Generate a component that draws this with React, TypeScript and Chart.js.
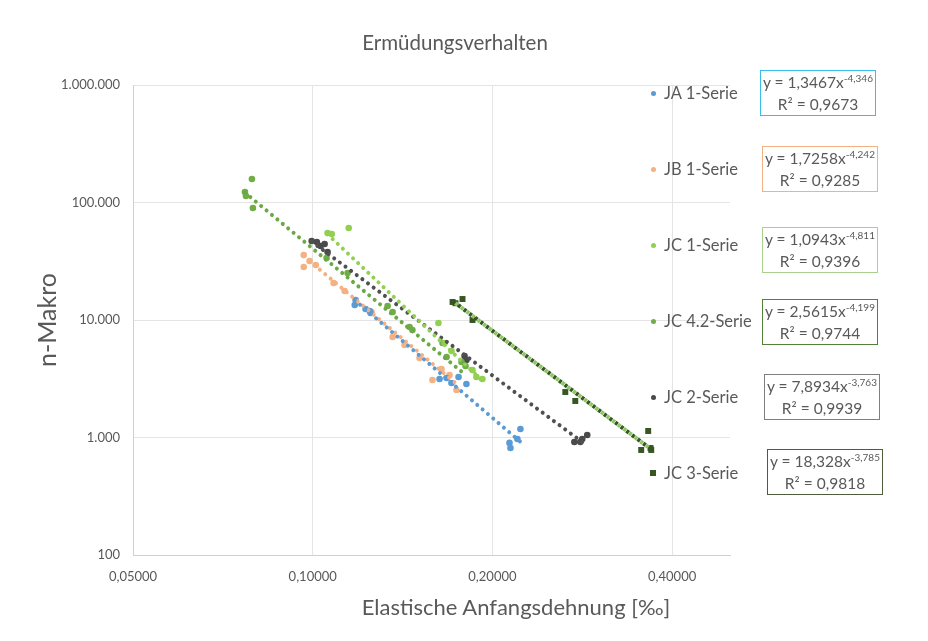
import React, { useEffect, useRef } from 'react';
import { Chart, registerables } from 'chart.js';
Chart.register(...registerables);

// ---- axis ticks ----
const xTicks = [0.05, 0.1, 0.2, 0.4];
const yTicks = [100, 1000, 10000, 100000, 1000000];

// ---- series names & trendline equations ----
const seriesNames = ['JA 1-Serie', 'JB 1-Serie', 'JC 1-Serie', 'JC 4.2-Serie', 'JC 2-Serie', 'JC 3-Serie'];
const eqCoef = ['1,3467', '1,7258', '1,0943', '2,5615', '7,8934', '18,328'];
const eqExp = ['-4,346', '-4,242', '-4,811', '-4,199', '-3,763', '-3,785'];
const eqR2 = ['0,9673', '0,9285', '0,9396', '0,9744', '0,9939', '0,9818'];

// ---- measured points [strain ‰, cycles] ----
const jaPoints = [
  [0.1176, 13420], [0.1180, 14800], [0.1226, 12410], [0.1246, 11930], [0.1250, 11480],
  [0.1631, 3150], [0.1676, 3210], [0.1708, 2910], [0.1755, 3270], [0.1809, 2850],
  [0.2136, 900], [0.2144, 814], [0.2202, 971], [0.2228, 1181],
];
const jbPoints = [
  [0.0966, 35740], [0.0966, 28260], [0.0988, 31780], [0.1012, 29380], [0.1084, 20650],
  [0.1131, 17650], [0.1255, 11700], [0.1361, 7167], [0.1425, 6128], [0.1510, 4750],
  [0.1587, 3084], [0.1643, 3828], [0.1695, 3403], [0.1741, 2537],
];
const jc1Points = [
  [0.1059, 55010], [0.1076, 53940], [0.1149, 60670], [0.1624, 9430], [0.1663, 6372],
  [0.1708, 5448], [0.1852, 3753], [0.1880, 3272], [0.1924, 3146],
];
const jc42Points = [
  [0.0770, 122900], [0.0773, 113600], [0.0791, 158500], [0.0794, 89800], [0.1055, 33700],
  [0.1144, 25100], [0.1335, 13150], [0.1361, 11700], [0.1453, 8720], [0.1469, 8220],
  [0.1650, 6372], [0.1676, 4843], [0.1775, 4390], [0.1803, 4060],
];
const jc2Points = [
  [0.0996, 47010], [0.1016, 46100], [0.1031, 42640], [0.1047, 44330], [0.1059, 37900],
  [0.1796, 4937], [0.1809, 4566], [0.2743, 915], [0.2807, 915], [0.2828, 971], [0.2883, 1050],
];
const jc3Points = [
  [0.1715, 14230], [0.1734, 13900], [0.1782, 15090], [0.1852, 10000], [0.2649, 2439],
  [0.2753, 2045], [0.3550, 783], [0.3647, 1136], [0.3690, 783], [0.3680, 814],
];

// ---- trendline end points (power fits, straight on log-log axes) ----
const trendJA = [[0.1176, 14770], [0.2228, 919]];
const trendJB = [[0.0966, 34900], [0.1741, 2867]];
const trendJC1 = [[0.1059, 53700], [0.1924, 3040]];
const trendJC42 = [[0.0770, 121400], [0.1803, 3408]];
const trendJC2 = [[0.0996, 46440], [0.2883, 851]];
const trendJC3 = [[0.1715, 14520], [0.3690, 793]];

const pointColors = ['#5B9BD5', '#F4B183', '#92D050', '#70AD47', '#4A4A4A', '#375623'];
const trendColors = ['#5B9BD5', '#F4B183', '#92D050', '#6AA944', '#505050', '#375623'];
const boxColors = ['#3CBCEB', '#F4B183', '#A9D18E', '#548235', '#7F7F7F', '#4E5D3A'];
const TEXT = '#595959';
const FONT = 'Lato, "Open Sans", sans-serif';

const toXY = (arr: number[][]) => arr.map(([x, y]) => ({ x, y }));
const fmtY = (v: number) => String(Math.round(v)).replace(/\B(?=(\d{3})+(?!\d))/g, '.');
const fmtX = (v: number) => v.toFixed(5).replace('.', ',');

export default function App() {
  const ref = useRef<HTMLCanvasElement>(null);

  useEffect(() => {
    document.body.style.margin = '0';
    const pts = [jaPoints, jbPoints, jc1Points, jc42Points, jc2Points, jc3Points];
    const trends = [trendJA, trendJB, trendJC1, trendJC42, trendJC2, trendJC3];

    const pointSets: any[] = pts.map((p, i) => ({
      label: seriesNames[i],
      data: toXY(p),
      showLine: false,
      pointStyle: i === 5 ? 'rect' : 'circle',
      pointRadius: i === 5 ? 4.2 : 3.3,
      pointBackgroundColor: pointColors[i],
      pointBorderWidth: 0,
      order: 2,
    }));

    const trendSets: any[] = trends.slice(0, 5).map((t, i) => ({
      label: seriesNames[i] + ' Trend',
      data: toXY(t),
      showLine: true,
      pointRadius: 0,
      borderColor: trendColors[i],
      borderWidth: 4,
      borderDash: [0.01, 7],
      borderCapStyle: 'round',
      order: 1,
    }));
    trendSets.push({
      label: 'JC 3-Serie Trend a',
      data: toXY(trendJC3),
      showLine: true,
      pointRadius: 0,
      borderColor: '#8CC860',
      borderWidth: 4,
      borderDash: [3, 4],
      borderDashOffset: 3.5,
      borderCapStyle: 'butt',
      order: 1,
    });
    trendSets.push({
      label: 'JC 3-Serie Trend b',
      data: toXY(trendJC3),
      showLine: true,
      pointRadius: 0,
      borderColor: '#375623',
      borderWidth: 4,
      borderDash: [3, 4],
      borderCapStyle: 'butt',
      order: 0,
    });

    const chart = new Chart(ref.current as HTMLCanvasElement, {
      type: 'scatter',
      data: { datasets: [...pointSets, ...trendSets] },
      options: {
        animation: false,
        responsive: false,
        devicePixelRatio: 1,
        layout: { padding: { top: 85, right: 198, left: 0, bottom: 0 } },
        plugins: {
          legend: { display: false },
          tooltip: { enabled: false },
          title: { display: false },
        },
        scales: {
          x: {
            type: 'logarithmic',
            min: 0.05,
            max: 0.5,
            afterBuildTicks: (s: any) => { s.ticks = xTicks.map((v) => ({ value: v })); },
            afterFit: (s: any) => { s.height = 86; },
            ticks: {
              callback: (v: any) => fmtX(Number(v)),
              color: TEXT,
              font: { family: FONT, size: 13 },
              padding: 14,
              maxRotation: 0,
              autoSkip: false,
            },
            grid: { color: '#E4E4E4', drawTicks: false },
            border: { color: '#D0D0D0' },
          },
          y: {
            type: 'logarithmic',
            min: 100,
            max: 1000000,
            afterBuildTicks: (s: any) => { s.ticks = yTicks.map((v) => ({ value: v })); },
            afterFit: (s: any) => { s.width = 133; },
            ticks: {
              callback: (v: any) => fmtY(Number(v)),
              color: TEXT,
              font: { family: FONT, size: 13 },
              padding: 13,
              autoSkip: false,
            },
            grid: { color: '#E4E4E4', drawTicks: false },
            border: { color: '#D0D0D0' },
            title: {
              display: true,
              text: 'n-Makro',
              color: TEXT,
              font: { family: FONT, size: 25 },
              padding: { top: 33, bottom: 0 },
            },
          },
        },
      },
    });
    return () => chart.destroy();
  }, []);

  const rowY = [93, 169, 245, 321, 397, 473];
  const boxes = [
    { l: 760, t: 70 }, { l: 762, t: 146 }, { l: 762, t: 227 },
    { l: 762, t: 299 }, { l: 764, t: 374 }, { l: 767, t: 449 },
  ];

  return (
    <div style={{ position: 'relative', width: 928, height: 641, background: '#fff', fontFamily: FONT, color: TEXT }}>
      <canvas ref={ref} width={928} height={641} style={{ display: 'block' }} />
      <div style={{ position: 'absolute', left: 455, top: 42, transform: 'translate(-50%,-50%)', fontSize: 20.5, whiteSpace: 'nowrap', lineHeight: 1 }}>
        Ermüdungsverhalten
      </div>
      <div style={{ position: 'absolute', left: 516, top: 607, transform: 'translate(-50%,-50%)', fontSize: 22, whiteSpace: 'nowrap', lineHeight: 1 }}>
        Elastische Anfangsdehnung [‰]
      </div>
      {seriesNames.map((n, i) => (
        <div key={n} style={{ position: 'absolute', left: 0, top: rowY[i] }}>
          <div style={{
            position: 'absolute', left: i === 5 ? 650 : 650.5, top: i === 5 ? -3 : -2.5,
            width: i === 5 ? 6 : 5, height: i === 5 ? 6 : 5,
            borderRadius: i === 5 ? 0 : '50%', background: pointColors[i],
          }} />
          <div style={{ position: 'absolute', left: 664, top: 0, transform: 'translateY(-50%)', fontSize: 16.5, whiteSpace: 'nowrap', lineHeight: 1 }}>
            {n}
          </div>
        </div>
      ))}
      {boxes.map((b, i) => (
        <div key={i} style={{
          position: 'absolute', left: b.l, top: b.t, width: 114, height: 44,
          border: `1.5px solid ${boxColors[i]}`, textAlign: 'center', fontSize: 15.5, lineHeight: '20px',
          display: 'flex', flexDirection: 'column', justifyContent: 'center', whiteSpace: 'nowrap',
        }}>
          <div>
            y = {eqCoef[i]}x<span style={{ fontSize: 10, position: 'relative', top: -6 }}>{eqExp[i]}</span>
          </div>
          <div>R² = {eqR2[i]}</div>
        </div>
      ))}
    </div>
  );
}
